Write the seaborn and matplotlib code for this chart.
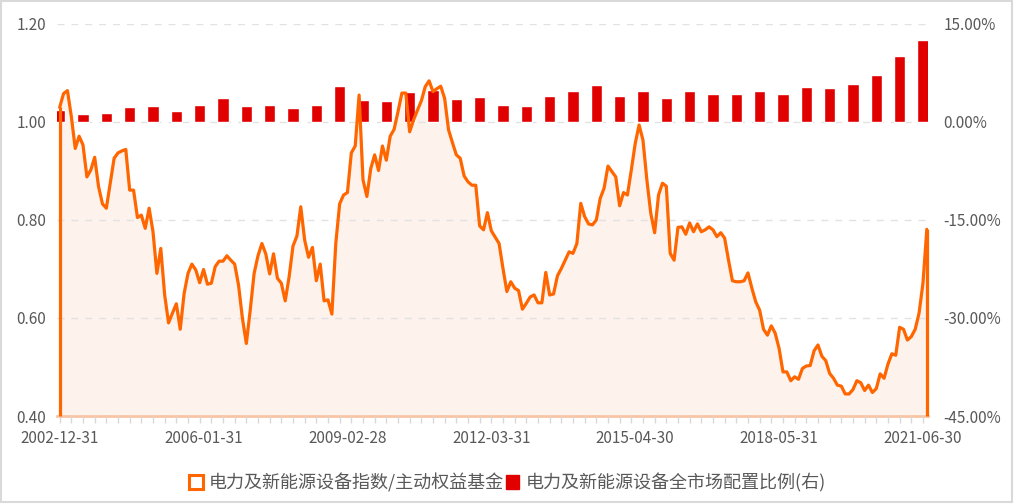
import numpy as np
import pandas as pd
import matplotlib
matplotlib.use("Agg")
import matplotlib.pyplot as plt
from matplotlib.patches import Patch, Rectangle
from matplotlib.ticker import FuncFormatter
import seaborn as sns

# 月度日期 (2002-12 ~ 2021-07)
dates = pd.date_range("2002-12-31", periods=224, freq="ME")

# 电力及新能源设备指数/主动权益基金 (左轴)
ratio = [
    1.030, 1.058, 1.064, 1.011, 0.946, 0.971, 0.953, 0.888, 0.902, 0.928,
    0.868, 0.833, 0.824, 0.875, 0.926, 0.937, 0.941, 0.944, 0.861, 0.861,
    0.805, 0.810, 0.783, 0.824, 0.776, 0.691, 0.742, 0.647, 0.590, 0.610,
    0.629, 0.577, 0.650, 0.691, 0.710, 0.698, 0.672, 0.699, 0.669, 0.671,
    0.705, 0.716, 0.716, 0.727, 0.718, 0.710, 0.667, 0.599, 0.548, 0.616,
    0.691, 0.727, 0.752, 0.731, 0.690, 0.731, 0.681, 0.671, 0.635, 0.684,
    0.747, 0.767, 0.827, 0.759, 0.724, 0.744, 0.676, 0.710, 0.635, 0.637,
    0.608, 0.752, 0.833, 0.851, 0.856, 0.937, 0.951, 1.055, 0.882, 0.848,
    0.905, 0.933, 0.901, 0.951, 0.922, 0.971, 0.985, 1.021, 1.059, 1.059,
    0.980, 1.004, 1.024, 1.043, 1.072, 1.084, 1.062, 1.068, 1.073, 1.048,
    0.984, 0.958, 0.933, 0.926, 0.890, 0.878, 0.871, 0.871, 0.788, 0.780,
    0.815, 0.778, 0.765, 0.752, 0.701, 0.654, 0.674, 0.661, 0.656, 0.618,
    0.630, 0.643, 0.647, 0.631, 0.631, 0.693, 0.647, 0.649, 0.686, 0.701,
    0.718, 0.735, 0.732, 0.752, 0.834, 0.807, 0.792, 0.790, 0.800, 0.844,
    0.865, 0.910, 0.899, 0.888, 0.829, 0.856, 0.851, 0.902, 0.956, 0.994,
    0.963, 0.882, 0.814, 0.774, 0.851, 0.875, 0.869, 0.732, 0.718, 0.785,
    0.786, 0.771, 0.794, 0.776, 0.792, 0.776, 0.780, 0.786, 0.780, 0.766,
    0.774, 0.763, 0.718, 0.676, 0.674, 0.674, 0.676, 0.692, 0.661, 0.633,
    0.616, 0.577, 0.565, 0.584, 0.569, 0.538, 0.490, 0.490, 0.472, 0.480,
    0.475, 0.497, 0.502, 0.503, 0.533, 0.545, 0.522, 0.513, 0.487, 0.477,
    0.463, 0.461, 0.445, 0.445, 0.454, 0.472, 0.468, 0.452, 0.463, 0.448,
    0.456, 0.486, 0.477, 0.506, 0.527, 0.524, 0.581, 0.577, 0.555, 0.562,
    0.577, 0.610, 0.671, 0.781,
]

# 电力及新能源设备全市场配置比例 (右轴, %), 每半年一个
alloc = [1.9, 1.2, 1.4, 2.3, 2.45, 1.75, 2.55, 3.65, 2.45, 2.6,
         2.2, 2.6, 5.55, 3.35, 3.2, 4.6, 4.9, 3.5, 3.85, 2.6,
         2.45, 4.0, 4.8, 5.65, 4.0, 4.7, 3.65, 4.7, 4.3, 4.25,
         4.75, 4.25, 5.3, 5.2, 5.8, 7.15, 10.1, 12.5]
alloc_pos = list(range(0, 223, 6))

label_line = "电力及新能源设备指数/主动权益基金"
label_bar = "电力及新能源设备全市场配置比例(右)"

sns.set_theme(style="white")
plt.rcParams["font.family"] = ["Noto Sans CJK SC", "DejaVu Sans"]

ORANGE = "#ff6600"
RED = "#e00000"
GREY = "#595959"

fig = plt.figure(figsize=(10.17, 5.04), dpi=100)
ax = fig.add_axes([0.0565, 0.1746, 0.856, 0.7778])

idx = np.arange(len(ratio))
ax.fill_between(idx, ratio, 0.4, color="#fdf2ec", linewidth=0, zorder=1)
ax.set_ylim(0.4, 1.2)
ax.set_yticks(np.arange(0.4, 1.21, 0.2))
ax.yaxis.grid(True, color="#e2e2e2", linestyle=(0, (5, 5)), linewidth=1)
ax.set_axisbelow(False)

# 柱状 (右轴)
ax2 = ax.twinx()
sns.barplot(x=alloc_pos, y=alloc, native_scale=True, width=0.49, color=RED,
            saturation=1, errorbar=None, ax=ax2)
ax2.set_ylim(-45, 15)
ax2.set_yticks([-45, -30, -15, 0, 15])

# 折线 (左轴, 画在柱子上方)
ax3 = ax.twinx()
sns.lineplot(x=idx, y=ratio, color=ORANGE, linewidth=2.3, ax=ax3)
ax3.vlines([idx[0], idx[-1]], 0.4, [ratio[0], ratio[-1]], color=ORANGE,
           linewidth=2.3, clip_on=False)
ax3.set_ylim(0.4, 1.2)
ax3.set_yticks([])

for a in (ax, ax2, ax3):
    a.set_xlim(-0.57, 223.3)
    a.set_xlabel("")
    a.set_ylabel("")
    for s in a.spines.values():
        s.set_visible(False)
ax.spines["bottom"].set_visible(True)
ax.spines["bottom"].set_color("#f9c4a2")
ax.spines["bottom"].set_linewidth(2)

ax.yaxis.set_major_formatter(FuncFormatter(lambda v, _: f"{v:.2f}"))
ax2.yaxis.set_major_formatter(FuncFormatter(lambda v, _: f"{v:.2f}%"))
ax.tick_params(axis="y", length=0, pad=8, labelsize=11, labelcolor=GREY)
ax2.tick_params(axis="y", length=0, pad=11, labelsize=11, labelcolor=GREY)

ax.xaxis.remove_overlapping_locs = False
ax.set_xticks(idx[::37])
ax.set_xticklabels(dates[::37].strftime("%Y-%m-%d"))
ax.set_xticks(np.arange(0, 223, 3), minor=True)
ax.tick_params(axis="x", which="major", length=0, pad=10, labelsize=11, labelcolor=GREY)
ax.tick_params(axis="x", which="minor", length=5, width=1, color="#d9d9d9", bottom=True)

handles = [Patch(facecolor="white", edgecolor=ORANGE, linewidth=2.2, label=label_line),
           Patch(facecolor=RED, edgecolor=RED, label=label_bar)]
fig.legend(handles=handles, loc="center", bbox_to_anchor=(0.499, 0.042), ncol=2,
           frameon=False, fontsize=13, handlelength=0.75, handleheight=0.75,
           handletextpad=0.35, columnspacing=0.1, labelcolor=GREY)

fig.add_artist(Rectangle((0.001, 0.004), 0.994, 0.994, transform=fig.transFigure,
                         fill=False, edgecolor="#d9d9d9", linewidth=1.5))

fig.savefig("out.png", dpi=100)
